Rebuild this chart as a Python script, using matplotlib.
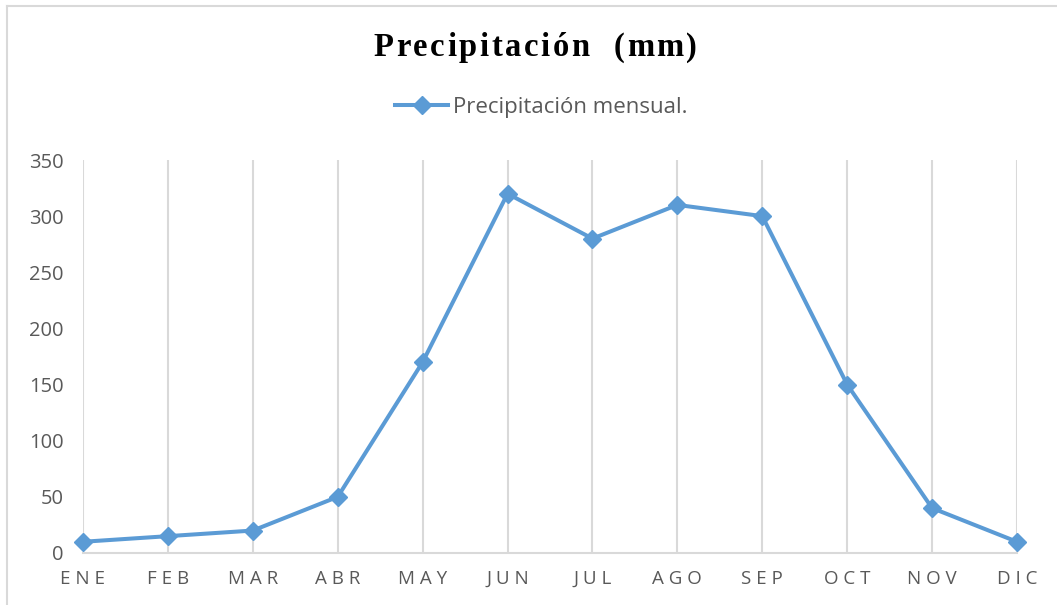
import matplotlib
matplotlib.use('Agg')
import matplotlib.pyplot as plt
from matplotlib.lines import Line2D

###Datos
meses = ['ENE', 'FEB', 'MAR', 'ABR', 'MAY', 'JUN', 'JUL', 'AGO', 'SEP', 'OCT', 'NOV', 'DIC']
precipitacion = [10, 15, 20, 50, 170, 320, 280, 310, 300, 150, 40, 10]
yticks = [0, 50, 100, 150, 200, 250, 300, 350]
titulo = 'Precipitación  (mm)'
etiqueta = 'Precipitación mensual.'

W, H = 1057, 605
azul = '#5B9BD5'
gris = '#D9D9D9'
texto = '#595959'

plt.rcParams['font.family'] = ['Open Sans', 'DejaVu Sans']

fig = plt.figure(figsize=(W / 100, H / 100), dpi=100)
ax = fig.add_axes([83 / W, 52 / H, (1017 - 83) / W, (553 - 160) / H])

x = list(range(len(meses)))
ax.plot(x, precipitacion, color=azul, lw=2.9, marker='D', ms=9,
        mec=azul, clip_on=False, zorder=3, label=etiqueta)

ax.set_xlim(0, len(meses) - 1)
ax.set_ylim(0, 350)
ax.set_yticks(yticks)
ax.set_xticks(x)
ax.set_xticklabels([' '.join(m) for m in meses])
ax.tick_params(axis='y', length=0, pad=14, labelsize=14.5, labelcolor=texto)
ax.tick_params(axis='x', length=0, pad=12, labelsize=13.5, labelcolor=texto)

ax.grid(True, axis='x', color=gris, lw=1.5, zorder=0)
ax.grid(False, axis='y')
for s in ['left', 'top', 'right']:
    ax.spines[s].set_visible(False)
ax.spines['bottom'].set_color(gris)
ax.spines['bottom'].set_linewidth(1.5)

# leyenda
ax.legend(loc='center', bbox_to_anchor=(541 / W, 1 - 107 / H),
          bbox_transform=fig.transFigure, frameon=False, fontsize=16,
          labelcolor=texto, handlelength=2.4, handletextpad=0.2)

# borde del grafico
fig.add_artist(Line2D([7 / W, 7 / W], [0, 1 - 6 / H], color=gris, lw=1.5))
fig.add_artist(Line2D([7 / W, 1], [1 - 6 / H, 1 - 6 / H], color=gris, lw=1.5))


def spaced_text(fig, cx, y, s, gap, **kw):
    """Dibuja texto con espaciado entre letras (en pixeles)"""
    r = fig.canvas.get_renderer()
    t = fig.text(0, 0, 'xx', **kw)
    base = t.get_window_extent(r).width
    t.remove()
    widths = []
    for ch in s:
        t = fig.text(0, 0, 'x' + ch + 'x', **kw)
        widths.append(t.get_window_extent(r).width - base)
        t.remove()
    total = sum(widths) + gap * (len(s) - 1)
    pos = cx - total / 2
    for ch, w in zip(s, widths):
        fig.text(pos, y, ch, transform=None, ha='left', va='baseline', **kw)
        pos += w + gap


spaced_text(fig, 535, H - 56, titulo, 2.6, family='Liberation Serif',
            fontweight='bold', fontsize=23.5, color='black')

fig.savefig('out.png', dpi=100)
